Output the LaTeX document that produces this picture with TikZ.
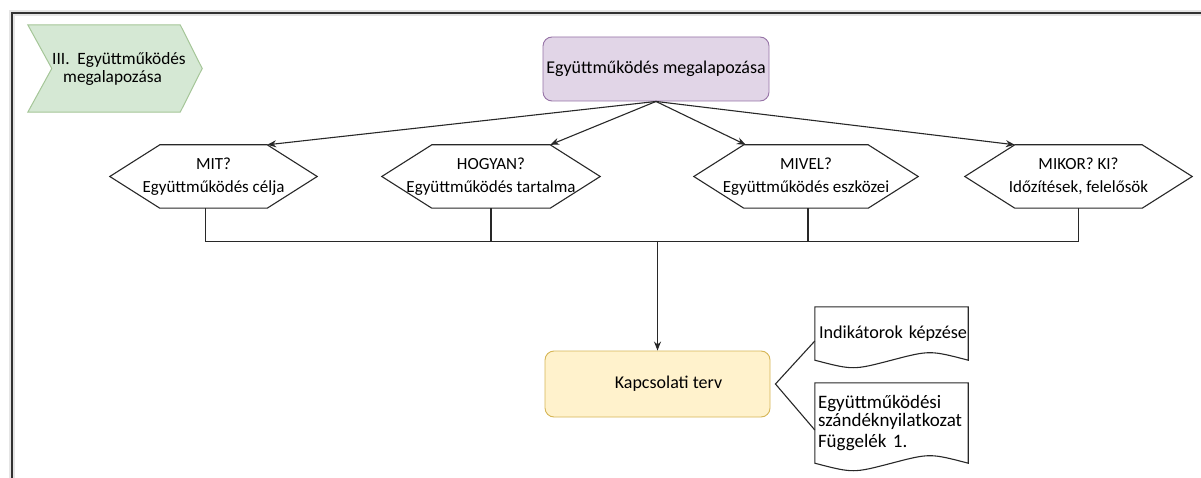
\documentclass[tikz,border=0pt]{standalone}
\usepackage{fontspec}
\setmainfont{Carlito}
\usetikzlibrary{arrows.meta,calc}
\definecolor{purfill}{RGB}{225,213,231}
\definecolor{purline}{RGB}{150,115,166}
\definecolor{yelfill}{RGB}{255,242,204}
\definecolor{yelline}{RGB}{214,182,86}
\definecolor{grnfill}{RGB}{213,232,212}
\definecolor{grnline}{RGB}{165,198,152}
\definecolor{framecol}{RGB}{50,50,50}
\definecolor{linecol}{RGB}{40,40,40}
\begin{document}
\begin{tikzpicture}[x=1pt,y=-1pt,
  font=\fontsize{17}{23}\selectfont,
  box/.style={rounded corners=9pt, draw, line width=0.9pt, minimum width=226pt, minimum height=64pt, inner sep=0pt, align=center, font=\fontsize{18}{22}\selectfont},
  hexnode/.style={minimum height=63pt, inner sep=0pt, align=center},
  hexline/.style={draw=linecol, line width=1.1pt},
  conn/.style={draw=linecol, line width=1.1pt},
  arr/.style={conn, -{Stealth[length=9pt,width=7pt]}},
  docnode/.style={text width=149pt, inner xsep=2pt, inner ysep=0pt, align=left, minimum width=153pt, font=\fontsize{19}{18}\selectfont},
]
\useasboundingbox (0,0) rectangle (1201,478);
\fill[white] (0,0) rectangle (1201,478);
% frame
\draw[black!10, line width=6pt] (12,480) -- (12,13) -- (1203,13);
\draw[framecol, line width=2.6pt] (12,480) -- (12,13) -- (1203,13);

% phase chevron
\node[minimum width=174pt, minimum height=87pt, inner sep=0pt] (ph) at (115,68.5) {};
\path[fill=grnfill, draw=grnline, line width=1pt] (ph.north west) -- ([xshift=-22pt]ph.north east) -- (ph.east)
  -- ([xshift=-22pt]ph.south east) -- (ph.south west) -- ([xshift=24pt]ph.west) -- cycle;
\node[anchor=west, inner sep=0pt, align=left, font=\fontsize{17.3}{18.5}\selectfont] (phtext) at (52,69)
  {III.\ \ Együttműködés\\\hspace*{11pt}megalapozása};

% top box
\node[box, fill=purfill, draw=purline] (top) at (656,69) {Együttműködés megalapozása};

% hexagons
\node[hexnode, minimum width=207pt] (h1) at (213.5,176.5) {MIT?\\Együttműködés célja};
\node[hexnode, minimum width=218pt] (h2) at (491,176.5) {HOGYAN?\\Együttműködés tartalma};
\node[hexnode, minimum width=224pt] (h3) at (806,176.5) {MIVEL?\\Együttműködés eszközei};
\node[hexnode, minimum width=227pt] (h4) at (1078.5,176.5) {MIKOR? KI?\\Időzítések, felelősök};
\foreach \n in {h1,h2,h3,h4}{
  \draw[hexline] ([xshift=50pt]\n.north west) -- ([xshift=-50pt]\n.north east) -- (\n.east)
    -- ([xshift=-50pt]\n.south east) -- ([xshift=50pt]\n.south west) -- (\n.west) -- cycle;
}

% arrows from top box
\draw[arr] (top.south) -- ([xshift=-50pt]h1.north east);
\draw[arr] (top.south) -- ([xshift=-50pt]h2.north east);
\draw[arr] (top.south) -- ([xshift=52pt]h3.north west);
\draw[arr] (top.south) -- ([xshift=50pt]h4.north west);

% bus
\draw[conn] ([xshift=-8pt]h1.south) -- ++(0,33) -| (h4.south);
\draw[conn] (h2.south) -- ++(0,33);
\draw[conn] ([xshift=2pt]h3.south) -- ++(0,33);

% plan box
\node[box, fill=yelfill, draw=yelline, minimum width=225pt, minimum height=66pt] (kap) at (657.5,384)
  {\hspace*{22pt}Kapcsolati terv};
\coordinate (bus) at (657.5,241);
\draw[arr] (bus) -- (kap.north);

% documents
\node[docnode, minimum height=53pt, font=\fontsize{18.2}{18}\selectfont] (d1) at (891.5,333.5) {\hspace*{2pt}\mbox{Indikátorok képzése}\\[-2pt]};
\node[docnode, minimum height=80pt] (d2) at (891.5,423) {\hspace*{1pt}Együttműködési\\\hspace*{1pt}szándéknyilatkozat\\[3pt]\hspace*{1pt}Függelék 1.\\[6pt]};
\foreach \n in {d1,d2}{
  \draw[hexline] (\n.north west) -- (\n.north east) -- (\n.south east)
    .. controls ($(\n.south east)!0.5!(\n.south)+(0,-10)$) .. (\n.south)
    .. controls ($(\n.south)!0.5!(\n.south west)+(0,10)$) .. (\n.south west) -- cycle;
}
\draw[conn] ([yshift=-7.5pt]d1.west) -- ([xshift=5pt]kap.east) -- ([yshift=-7pt]d2.west);
\end{tikzpicture}
\end{document}
